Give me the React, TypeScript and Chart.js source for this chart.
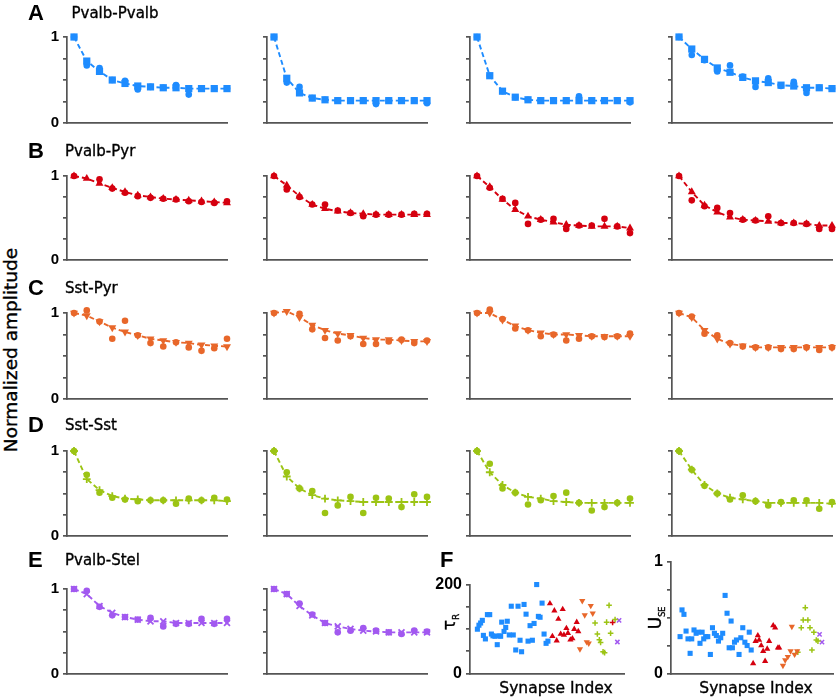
import React, { useEffect, useRef } from 'react';
import { Chart, registerables } from 'chart.js';

Chart.register(...registerables);

// ---------- colours ----------
const BLUE = '#1E8CFF';
const RED = '#D5000F';
const ORANGE = '#E8672A';
const GREEN = '#9CC414';
const PURPLE = '#A259F0';
const AXIS = '#555555';

// ---------- stimulus index (x) for panels A-E ----------
const STIM = [0, 1, 2, 3, 4, 5, 6, 7, 8, 9, 10, 11, 12];

// ---------- A: Pvalb-Pvalb ----------
const A1_MODEL = [1, 0.72, 0.6, 0.5, 0.46, 0.43, 0.42, 0.41, 0.41, 0.4, 0.4, 0.4, 0.4];
const A1_DATA = [1, 0.67, 0.64, 0.5, 0.49, 0.39, 0.42, 0.41, 0.44, 0.33, 0.4, 0.4, 0.4];
const A2_MODEL = [1, 0.52, 0.35, 0.29, 0.27, 0.26, 0.26, 0.26, 0.26, 0.26, 0.26, 0.26, 0.26];
const A2_DATA = [1, 0.47, 0.42, 0.29, 0.27, 0.26, 0.26, 0.26, 0.22, 0.26, 0.26, 0.26, 0.23];
const A3_MODEL = [1, 0.55, 0.37, 0.3, 0.27, 0.26, 0.26, 0.26, 0.26, 0.26, 0.26, 0.26, 0.26];
const A3_DATA = [1, 0.55, 0.37, 0.3, 0.27, 0.26, 0.26, 0.26, 0.31, 0.26, 0.26, 0.26, 0.24];
const A4_MODEL = [1, 0.86, 0.74, 0.64, 0.59, 0.53, 0.49, 0.47, 0.44, 0.43, 0.41, 0.41, 0.4];
const A4_DATA = [1, 0.79, 0.73, 0.6, 0.67, 0.54, 0.42, 0.52, 0.43, 0.48, 0.35, 0.41, 0.4];

// ---------- B: Pvalb-Pyr ----------
const B1_MODEL = [1, 0.97, 0.91, 0.86, 0.81, 0.77, 0.75, 0.73, 0.72, 0.71, 0.7, 0.69, 0.68];
const B1_DATA = [1, 1.09, 0.96, 0.85, 0.8, 0.76, 0.74, 0.73, 0.72, 0.7, 0.69, 0.68, 0.7];
const B2_MODEL = [1, 0.89, 0.76, 0.66, 0.61, 0.58, 0.56, 0.55, 0.54, 0.54, 0.54, 0.54, 0.54];
const B2_DATA = [1, 0.84, 0.75, 0.66, 0.66, 0.59, 0.56, 0.52, 0.54, 0.54, 0.54, 0.55, 0.55];
const B3_MODEL = [1, 0.87, 0.72, 0.6, 0.52, 0.48, 0.45, 0.42, 0.41, 0.4, 0.4, 0.4, 0.38];
const B3_DATA = [1, 0.86, 0.73, 0.68, 0.43, 0.48, 0.49, 0.37, 0.41, 0.41, 0.49, 0.4, 0.32];
const B4_MODEL = [1, 0.81, 0.65, 0.57, 0.51, 0.48, 0.47, 0.46, 0.44, 0.44, 0.43, 0.41, 0.41];
const B4_DATA = [1, 0.71, 0.64, 0.62, 0.56, 0.48, 0.47, 0.52, 0.44, 0.44, 0.43, 0.37, 0.37];

// ---------- C: Sst-Pyr ----------
const C1_MODEL = [1, 0.97, 0.9, 0.83, 0.78, 0.74, 0.7, 0.68, 0.66, 0.65, 0.63, 0.62, 0.61];
const C1_DATA = [1, 1.03, 0.9, 0.7, 0.91, 0.74, 0.65, 0.61, 0.66, 0.6, 0.56, 0.59, 0.7];
const C2_MODEL = [1, 1.02, 0.95, 0.86, 0.8, 0.76, 0.74, 0.71, 0.69, 0.69, 0.68, 0.67, 0.67];
const C2_DATA = [1, 1.22, 0.99, 0.81, 0.71, 0.68, 0.73, 0.64, 0.64, 0.67, 0.69, 0.65, 0.68];
const C3_MODEL = [1, 1.0, 0.92, 0.85, 0.8, 0.77, 0.75, 0.75, 0.74, 0.73, 0.73, 0.73, 0.73];
const C3_DATA = [1, 1.04, 0.93, 0.82, 0.8, 0.73, 0.75, 0.68, 0.7, 0.73, 0.72, 0.73, 0.76];
const C4_MODEL = [1, 0.95, 0.8, 0.7, 0.64, 0.62, 0.6, 0.6, 0.6, 0.6, 0.6, 0.6, 0.6];
const C4_DATA = [1, 0.96, 0.76, 0.74, 0.65, 0.61, 0.6, 0.6, 0.58, 0.58, 0.6, 0.57, 0.6];

// ---------- D: Sst-Sst ----------
const D1_MODEL = [1, 0.67, 0.54, 0.47, 0.44, 0.43, 0.42, 0.42, 0.42, 0.42, 0.42, 0.42, 0.41];
const D1_DATA = [1, 0.72, 0.51, 0.45, 0.43, 0.41, 0.42, 0.42, 0.38, 0.44, 0.42, 0.45, 0.43];
const D2_MODEL = [1, 0.7, 0.56, 0.48, 0.44, 0.42, 0.41, 0.4, 0.4, 0.4, 0.4, 0.4, 0.4];
const D2_DATA = [1, 0.75, 0.56, 0.53, 0.27, 0.36, 0.46, 0.27, 0.45, 0.44, 0.34, 0.49, 0.46];
const D3_MODEL = [1, 0.75, 0.6, 0.51, 0.46, 0.44, 0.41, 0.4, 0.39, 0.39, 0.39, 0.39, 0.39];
const D3_DATA = [1, 0.85, 0.56, 0.51, 0.37, 0.42, 0.47, 0.51, 0.39, 0.3, 0.34, 0.39, 0.44];
const D4_MODEL = [1, 0.78, 0.6, 0.5, 0.45, 0.43, 0.41, 0.39, 0.39, 0.39, 0.39, 0.39, 0.38];
const D4_DATA = [1, 0.78, 0.59, 0.5, 0.43, 0.48, 0.41, 0.36, 0.4, 0.42, 0.42, 0.32, 0.4];

// ---------- E: Pvalb-Stel ----------
const E1_MODEL = [1, 0.94, 0.8, 0.72, 0.67, 0.64, 0.62, 0.62, 0.6, 0.6, 0.6, 0.6, 0.6];
const E1_DATA = [1, 0.98, 0.79, 0.69, 0.67, 0.64, 0.66, 0.56, 0.59, 0.59, 0.65, 0.59, 0.65];
const E2_MODEL = [1, 0.94, 0.8, 0.69, 0.6, 0.56, 0.53, 0.51, 0.5, 0.49, 0.49, 0.49, 0.49];
const E2_DATA = [1, 0.94, 0.83, 0.7, 0.6, 0.49, 0.51, 0.54, 0.51, 0.49, 0.47, 0.51, 0.5];

// ---------- F: tau_R per synapse ----------
const F1_BLUE_X = [4.8, 5.8, 6.9, 8.0, 8.7, 10.0, 11.3, 12.8, 13.9, 14.9, 16.2, 17.7, 18.8, 19.9, 20.6, 22.1, 23.2, 24.2, 25.5, 26.8, 28.1, 29.7, 31.2, 32.5, 33.5, 35.1, 36.4, 37.7, 39.0, 40.5, 41.6, 43.3, 44.4, 45.5, 46.8, 48.1, 49.4, 50.6];
const F1_BLUE_Y = [100, 109, 114, 120, 86, 78, 133, 133, 89, 85, 84, 65, 85, 84, 116, 95, 104, 118, 87, 152, 87, 53, 152, 75, 49, 156, 134, 73, 108, 75, 113, 201, 129, 127, 159, 89, 68, 73];
const F1_RED_X = [51.9, 53.5, 54.8, 56.3, 57.4, 58.9, 60.2, 61.0, 62.6, 63.6, 65.2, 66.5, 67.7, 69.3, 70.3];
const F1_RED_Y = [158, 84, 142, 74, 123, 89, 145, 87, 102, 91, 76, 79, 100, 116, 95];
const F1_ORANGE_X = [71.4, 72.9, 74.5, 75.8, 77.1, 78.4, 79.7];
const F1_ORANGE_Y = [55, 164, 132, 71, 68, 153, 136];
const F1_GREEN_X = [81.2, 82.7, 84.0, 84.8, 86.4, 87.4, 88.7, 90.3, 91.3, 94.2];
const F1_GREEN_Y = [114, 89, 76, 70, 49, 47, 116, 154, 91, 122];
const F1_REDPLUS_X = [92.6];
const F1_REDPLUS_Y = [115];
const F1_PURPLE_X = [95.7, 96.8];
const F1_PURPLE_Y = [71, 120];

// ---------- F: U_SE per synapse ----------
const F2_BLUE_X = [5.6, 6.8, 8.0, 9.3, 10.5, 11.8, 12.8, 14.2, 15.5, 16.7, 17.9, 19.2, 20.2, 21.4, 22.7, 24.3, 25.6, 26.8, 28.0, 29.3, 30.7, 31.9, 33.4, 34.6, 35.9, 37.1, 37.9, 39.2, 40.4, 42.0, 43.1, 44.3, 45.6, 47.0, 48.3, 49.5];
const F2_BLUE_Y = [0.33, 0.57, 0.53, 0.38, 0.31, 0.18, 0.31, 0.39, 0.36, 0.37, 0.27, 0.37, 0.31, 0.33, 0.33, 0.17, 0.41, 0.36, 0.34, 0.29, 0.32, 0.36, 0.7, 0.54, 0.23, 0.47, 0.23, 0.28, 0.3, 0.17, 0.32, 0.41, 0.28, 0.25, 0.37, 0.21];
const F2_RED_X = [50.7, 52.2, 53.6, 54.4, 55.7, 56.9, 58.1, 59.4, 60.6, 63.1, 64.3, 66.0, 66.8];
const F2_RED_Y = [0.09, 0.29, 0.34, 0.3, 0.25, 0.2, 0.11, 0.22, 0.29, 0.43, 0.41, 0.23, 0.23];
const F2_ORANGE_X = [69.1, 70.5, 72.1, 73.8, 74.6, 76.3, 77.9];
const F2_ORANGE_Y = [0.07, 0.12, 0.15, 0.2, 0.42, 0.17, 0.2];
const F2_GREEN_X = [78.3, 80.4, 81.6, 82.9, 84.5, 85.8, 87.0, 88.2, 89.7, 90.7];
const F2_GREEN_Y = [0.19, 0.41, 0.48, 0.59, 0.48, 0.41, 0.21, 0.37, 0.3, 0.29];
const F2_PURPLE_X = [91.7, 93.2];
const F2_PURPLE_Y = [0.35, 0.28];

// ---------- layout ----------
const COL_X = [67, 267, 469.5, 672];
const ROW_Y: [number, number][] = [
  [37, 126],
  [176, 263],
  [313, 402],
  [451, 539],
  [589, 677],
];
const PLOT_W = 160;

const pts = (xs: number[], ys: number[]) => xs.map((x, i) => ({ x, y: ys[i] }));

type RowStyle = { color: string; style: string; rotation: number; radius: number; cross: boolean };
const ROW_STYLES: RowStyle[] = [
  { color: BLUE, style: 'rect', rotation: 0, radius: 5.1, cross: false },
  { color: RED, style: 'triangle', rotation: 0, radius: 4.6, cross: false },
  { color: ORANGE, style: 'triangle', rotation: 180, radius: 4.6, cross: false },
  { color: GREEN, style: 'cross', rotation: 0, radius: 3.9, cross: true },
  { color: PURPLE, style: 'crossRot', rotation: 0, radius: 4.2, cross: true },
];

function rowDatasets(model: number[], data: number[], st: RowStyle) {
  return [
    {
      data: pts(STIM, model),
      borderColor: st.color,
      backgroundColor: st.color,
      borderWidth: 1.9,
      borderDash: [5, 3],
      pointStyle: st.style,
      pointRotation: st.rotation,
      pointRadius: st.radius,
      pointBackgroundColor: st.color,
      pointBorderColor: st.color,
      pointBorderWidth: st.cross ? 1.8 : 0,
      clip: false,
      tension: 0,
    },
    {
      data: pts(STIM, data),
      showLine: false,
      pointStyle: 'circle',
      pointRadius: 3.3,
      pointBackgroundColor: st.color,
      pointBorderColor: st.color,
      pointBorderWidth: 0,
      clip: false,
    },
  ];
}

function scatterSet(xs: number[], ys: number[], color: string, style: string, rotation: number, radius: number, cross: boolean) {
  return {
    data: pts(xs, ys),
    showLine: false,
    pointStyle: style,
    pointRotation: rotation,
    pointRadius: radius,
    pointBackgroundColor: color,
    pointBorderColor: color,
    pointBorderWidth: cross ? 1.5 : 0,
    clip: false,
  };
}

type PanelProps = {
  axisX: number;
  yTop: number;
  yBottom: number;
  xEnd: number;
  xMin: number;
  xMax: number;
  yMax: number;
  yStep: number;
  labels: Record<string, string>;
  fontSize: number;
  datasets: any[];
};

const PAD_L = 44;
const PAD_T = 28;
const PAD_R = 12;
const PAD_B = 10;

function Panel(p: PanelProps) {
  const ref = useRef<HTMLCanvasElement | null>(null);
  const width = Math.round(PAD_L + (p.xEnd - p.axisX) + PAD_R);
  const height = Math.round(PAD_T + (p.yBottom - p.yTop) + PAD_B);
  useEffect(() => {
    if (!ref.current) return;
    const chart = new Chart(ref.current, {
      type: 'line',
      data: { datasets: p.datasets },
      options: {
        responsive: false,
        animation: false,
        events: [],
        layout: { padding: { left: 0, top: PAD_T, right: width - PAD_L - Math.round(p.xEnd - p.axisX), bottom: PAD_B } },
        plugins: { legend: { display: false }, tooltip: { enabled: false } },
        scales: {
          x: {
            type: 'linear',
            min: p.xMin,
            max: p.xMax,
            grid: { display: false },
            ticks: { display: false },
            border: { display: true, color: AXIS, width: 1.7 },
            afterFit: (s: any) => {
              s.height = 0;
            },
          },
          y: {
            type: 'linear',
            min: 0,
            max: p.yMax,
            afterFit: (s: any) => {
              s.width = PAD_L;
            },
            grid: { display: true, drawOnChartArea: false, drawTicks: true, tickLength: 4, color: AXIS, lineWidth: 1.7 },
            border: { display: true, color: AXIS, width: 1.7 },
            ticks: {
              stepSize: p.yStep,
              autoSkip: false,
              padding: 4,
              color: '#000',
              font: { family: 'Liberation Sans', size: p.fontSize, weight: 'bold' },
              callback: (v: any) => p.labels[String(v)] ?? '',
            },
          },
        },
      } as any,
    });
    return () => chart.destroy();
  }, []);
  return (
    <canvas
      ref={ref}
      width={width}
      height={height}
      style={{ position: 'absolute', left: Math.round(p.axisX - PAD_L), top: Math.round(p.yTop - PAD_T) }}
    />
  );
}

const ROW_LABELS = { '1': '1', '0': '0' };

const ROWS: { model: number[]; data: number[] }[][] = [
  [
    { model: A1_MODEL, data: A1_DATA },
    { model: A2_MODEL, data: A2_DATA },
    { model: A3_MODEL, data: A3_DATA },
    { model: A4_MODEL, data: A4_DATA },
  ],
  [
    { model: B1_MODEL, data: B1_DATA },
    { model: B2_MODEL, data: B2_DATA },
    { model: B3_MODEL, data: B3_DATA },
    { model: B4_MODEL, data: B4_DATA },
  ],
  [
    { model: C1_MODEL, data: C1_DATA },
    { model: C2_MODEL, data: C2_DATA },
    { model: C3_MODEL, data: C3_DATA },
    { model: C4_MODEL, data: C4_DATA },
  ],
  [
    { model: D1_MODEL, data: D1_DATA },
    { model: D2_MODEL, data: D2_DATA },
    { model: D3_MODEL, data: D3_DATA },
    { model: D4_MODEL, data: D4_DATA },
  ],
  [
    { model: E1_MODEL, data: E1_DATA },
    { model: E2_MODEL, data: E2_DATA },
  ],
];

const LETTERS = [
  { t: 'A', x: 28, y: 12.5 },
  { t: 'B', x: 28, y: 151 },
  { t: 'C', x: 28, y: 288 },
  { t: 'D', x: 28, y: 425 },
  { t: 'E', x: 28, y: 559.5 },
  { t: 'F', x: 440, y: 559.5 },
];
const TITLES = [
  { t: 'Pvalb-Pvalb', x: 71.5, y: 12.5 },
  { t: 'Pvalb-Pyr', x: 65, y: 151 },
  { t: 'Sst-Pyr', x: 65, y: 288 },
  { t: 'Sst-Sst', x: 65, y: 425 },
  { t: 'Pvalb-Stel', x: 65, y: 560 },
];

const SANS = '"DejaVu Sans", Verdana, sans-serif';

const textBase: React.CSSProperties = {
  position: 'absolute',
  fontFamily: SANS,
  lineHeight: 1,
  whiteSpace: 'nowrap',
  color: '#000',
  WebkitTextStroke: '0.35px #000',
};

export default function App() {
  const f1Sets = [
    scatterSet(F1_BLUE_X, F1_BLUE_Y, BLUE, 'rect', 0, 3.6, false),
    scatterSet(F1_RED_X, F1_RED_Y, RED, 'triangle', 0, 3.6, false),
    scatterSet(F1_ORANGE_X, F1_ORANGE_Y, ORANGE, 'triangle', 180, 3.6, false),
    scatterSet(F1_GREEN_X, F1_GREEN_Y, GREEN, 'cross', 0, 2.8, true),
    scatterSet(F1_REDPLUS_X, F1_REDPLUS_Y, RED, 'cross', 0, 2.8, true),
    scatterSet(F1_PURPLE_X, F1_PURPLE_Y, PURPLE, 'crossRot', 0, 3.0, true),
  ];
  const f2Sets = [
    scatterSet(F2_BLUE_X, F2_BLUE_Y, BLUE, 'rect', 0, 3.6, false),
    scatterSet(F2_RED_X, F2_RED_Y, RED, 'triangle', 0, 3.6, false),
    scatterSet(F2_ORANGE_X, F2_ORANGE_Y, ORANGE, 'triangle', 180, 3.6, false),
    scatterSet(F2_GREEN_X, F2_GREEN_Y, GREEN, 'cross', 0, 2.8, true),
    scatterSet(F2_PURPLE_X, F2_PURPLE_Y, PURPLE, 'crossRot', 0, 3.0, true),
  ];
  return (
    <div style={{ position: 'absolute', left: 0, top: 0, width: 837, height: 699, background: '#fff', overflow: 'hidden' }}>
      {ROWS.map((row, r) =>
        row.map((cell, c) => (
          <Panel
            key={`${r}-${c}`}
            axisX={COL_X[c]}
            yTop={ROW_Y[r][0]}
            yBottom={ROW_Y[r][1]}
            xEnd={COL_X[c] + PLOT_W}
            xMin={-0.55}
            xMax={12}
            yMax={1}
            yStep={0.25}
            labels={c === 0 ? ROW_LABELS : {}}
            fontSize={15}
            datasets={rowDatasets(cell.model, cell.data, ROW_STYLES[r])}
          />
        ))
      )}
      <Panel
        axisX={469.5}
        yTop={585}
        yBottom={677}
        xEnd={623.5}
        xMin={0}
        xMax={100}
        yMax={200}
        yStep={50}
        labels={{ '200': '200', '0': '0' }}
        fontSize={16}
        datasets={f1Sets}
      />
      <Panel
        axisX={670.5}
        yTop={562}
        yBottom={677}
        xEnd={832}
        xMin={0}
        xMax={100}
        yMax={1}
        yStep={0.25}
        labels={{ '1': '1', '0': '0' }}
        fontSize={16}
        datasets={f2Sets}
      />

      {LETTERS.map((l) => (
        <div
          key={l.t}
          style={{
            position: 'absolute',
            left: l.x,
            top: l.y,
            transform: 'translateY(-50%)',
            font: 'bold 22px "Liberation Sans", Arial, sans-serif',
            lineHeight: 1,
            color: '#000',
          }}
        >
          {l.t}
        </div>
      ))}
      {TITLES.map((t) => (
        <div key={t.t} style={{ ...textBase, left: t.x, top: t.y, transform: 'translateY(-50%)', fontSize: 15 }}>
          {t.t}
        </div>
      ))}
      <div
        style={{
          ...textBase,
          left: 11,
          top: 350,
          transform: 'translate(-50%, -50%) rotate(-90deg)',
          fontSize: 18.5,
        }}
      >
        Normalized amplitude
      </div>
      <div style={{ ...textBase, left: 556, top: 689, transform: 'translate(-50%, -50%)', fontSize: 15.5 }}>Synapse Index</div>
      <div style={{ ...textBase, left: 756, top: 689, transform: 'translate(-50%, -50%)', fontSize: 15.5 }}>Synapse Index</div>
      <div
        style={{
          ...textBase,
          left: 451,
          top: 622,
          transform: 'translate(-50%, -50%) rotate(-90deg)',
          fontSize: 17,
        }}
      >
        τ<sub style={{ fontSize: 9 }}>R</sub>
      </div>
      <div
        style={{
          ...textBase,
          left: 657,
          top: 618,
          transform: 'translate(-50%, -50%) rotate(-90deg)',
          fontSize: 17,
        }}
      >
        U<sub style={{ fontSize: 8 }}>SE</sub>
      </div>
    </div>
  );
}
